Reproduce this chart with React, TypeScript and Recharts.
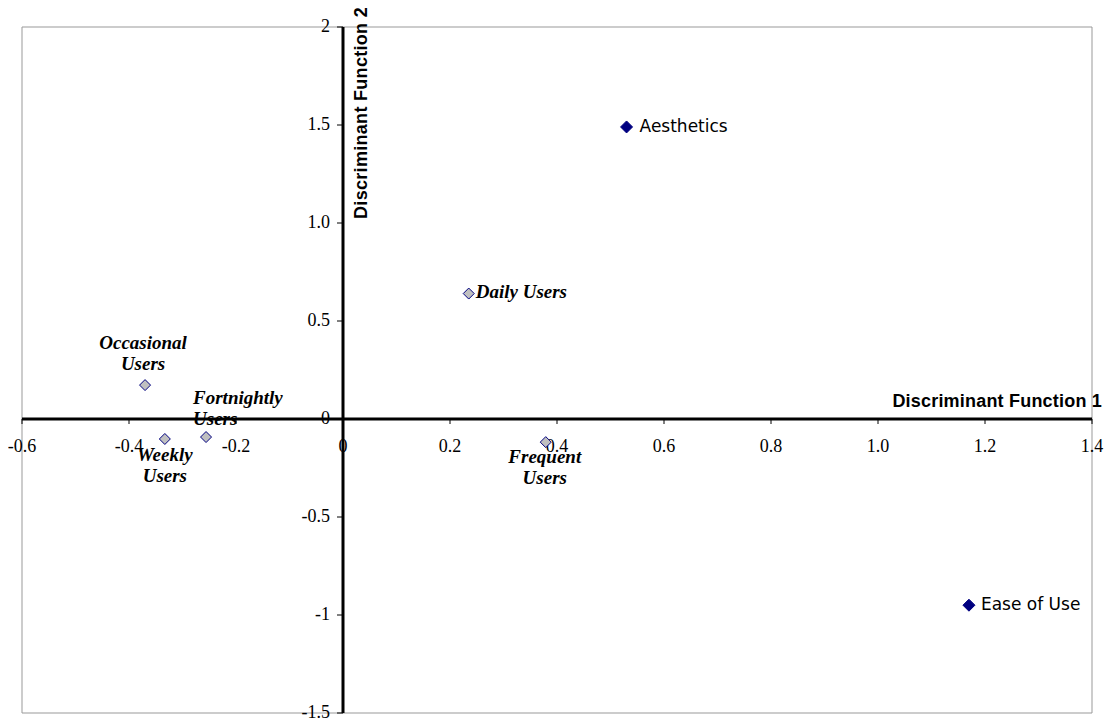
import React from "react";
import {
  ScatterChart,
  Scatter,
  XAxis,
  YAxis,
  CartesianGrid,
  ReferenceLine,
  ReferenceDot,
} from "recharts";

// axis ticks
const xTicks = [-0.6, -0.4, -0.2, 0, 0.2, 0.4, 0.6, 0.8, 1.0, 1.2, 1.4];
const xTickLabels = ["-0.6", "-0.4", "-0.2", "0", "0.2", "0.4", "0.6", "0.8", "1.0", "1.2", "1.4"];
const yTicks = [2, 1.5, 1, 0.5, 0, -0.5, -1, -1.5];
const yTickLabels = ["2", "1.5", "1.0", "0.5", "0", "-0.5", "-1", "-1.5"];

// attributes (filled markers)
const attributeNames = ["Aesthetics", "Ease of Use"];
const attributeX = [0.53, 1.17];
const attributeY = [1.49, -0.95];

// user groups (hollow markers)
const groupNames = ["Daily Users", "Occasional Users", "Weekly Users", "Fortnightly Users", "Frequent Users"];
const groupX = [0.235, -0.37, -0.333, -0.256, 0.379];
const groupY = [0.64, 0.173, -0.102, -0.092, -0.118];

const attributeData = attributeNames.map((name, i) => ({ name, x: attributeX[i], y: attributeY[i] }));
const groupData = groupNames.map((name, i) => ({ name, x: groupX[i], y: groupY[i] }));

const SERIF = '"Liberation Serif", "Times New Roman", serif';
const SANS = '"Liberation Sans", Arial, sans-serif';
const COMIC = '"Comic Sans MS", "DejaVu Sans", sans-serif';
const NAVY = "#000080";

// where each label sits relative to its marker
const labelPlacement: Record<string, { dx: number; dy: number; anchor: "start" | "middle"; split: boolean }> = {
  "Aesthetics": { dx: 13, dy: 0, anchor: "start", split: false },
  "Ease of Use": { dx: 12, dy: 0, anchor: "start", split: false },
  "Daily Users": { dx: 7, dy: 0, anchor: "start", split: false },
  "Occasional Users": { dx: -2, dy: -40, anchor: "middle", split: true },
  "Weekly Users": { dx: 0, dy: 18, anchor: "middle", split: true },
  "Fortnightly Users": { dx: -13, dy: -37, anchor: "start", split: true },
  "Frequent Users": { dx: -1, dy: 17, anchor: "middle", split: true },
};

const diamond = (cx: number, cy: number, h: number) =>
  `M${cx},${cy - h} L${cx + h},${cy} L${cx},${cy + h} L${cx - h},${cy} Z`;

const makeShape = (kind: "attr" | "group") => (props: any) => {
  const { cx, cy, payload } = props;
  const p = labelPlacement[payload.name];
  const lines = p.split ? payload.name.split(" ") : [payload.name];
  return (
    <g>
      {kind === "attr" ? (
        <path d={diamond(cx, cy, 6)} fill={NAVY} stroke={NAVY} />
      ) : (
        <path d={diamond(cx, cy, 5.5)} fill="#c0c0c0" stroke={NAVY} strokeWidth={1} />
      )}
      {lines.map((t: string, i: number) => (
        <text
          key={i}
          x={cx + p.dx}
          y={cy + p.dy + i * 21}
          textAnchor={p.anchor}
          dominantBaseline="middle"
          fontFamily={kind === "attr" ? COMIC : SERIF}
          fontSize={kind === "attr" ? 17 : 19}
          fontWeight={kind === "attr" ? "normal" : "bold"}
          fontStyle={kind === "attr" ? "normal" : "italic"}
          fill="#000"
        >
          {t}
        </text>
      ))}
    </g>
  );
};

const XTick = (label: string) => (props: any) => (
  <g>
    <line x1={props.cx} y1={props.cy} x2={props.cx} y2={props.cy + 5} stroke="#000" strokeWidth={1} />
    <text x={props.cx} y={props.cy + 33} textAnchor="middle" fontFamily={SERIF} fontSize={18} fill="#000">
      {label}
    </text>
  </g>
);

const YTick = (label: string) => (props: any) => (
  <g>
    <line x1={props.cx} y1={props.cy} x2={props.cx - 6} y2={props.cy} stroke="#000" strokeWidth={1} />
    <text x={props.cx - 13} y={props.cy + 1} textAnchor="end" dominantBaseline="middle" fontFamily={SERIF} fontSize={18} fill="#000">
      {label}
    </text>
  </g>
);

export default function App() {
  return (
    <div style={{ width: 1104, height: 715 }}>
      <ScatterChart
        width={1104}
        height={715}
        margin={{ top: 19, right: 20, bottom: 10, left: 14 }}
        style={{ overflow: "visible" }}
      >
        <CartesianGrid stroke="#999" strokeWidth={1} />
        <XAxis
          type="number"
          dataKey="x"
          domain={[-0.6, 1.4]}
          ticks={xTicks}
          height={0}
          axisLine={false}
          tickLine={false}
          tick={false}
          allowDataOverflow
        />
        <YAxis
          type="number"
          dataKey="y"
          domain={[-1.5, 2]}
          ticks={yTicks}
          width={0}
          axisLine={false}
          tickLine={false}
          tick={false}
          allowDataOverflow
        />
        <ReferenceLine x={0} stroke="#000" strokeWidth={3} />
        <ReferenceLine y={0} stroke="#000" strokeWidth={3} />
        {xTicks.map((v, i) => (
          <ReferenceDot key={"xt" + i} x={v} y={0} r={0} ifOverflow="visible" shape={XTick(xTickLabels[i])} />
        ))}
        {yTicks.map((v, i) => (
          <ReferenceDot key={"yt" + i} x={0} y={v} r={0} ifOverflow="visible" shape={YTick(yTickLabels[i])} />
        ))}
        <ReferenceDot
          x={0}
          y={2}
          r={0}
          ifOverflow="visible"
          shape={(p: any) => (
            <text
              x={p.cx + 19}
              y={p.cy - 20}
              transform={`rotate(-90 ${p.cx + 19} ${p.cy - 20})`}
              textAnchor="end"
              dominantBaseline="middle"
              fontFamily={SANS}
              fontWeight="bold"
              fontSize={18}
              letterSpacing={0.3}
              fill="#000"
            >
              Discriminant Function 2
            </text>
          )}
        />
        <ReferenceDot
          x={1.4}
          y={0}
          r={0}
          ifOverflow="visible"
          shape={(p: any) => (
            <text
              x={p.cx + 10}
              y={p.cy - 17}
              textAnchor="end"
              dominantBaseline="middle"
              fontFamily={SANS}
              fontWeight="bold"
              fontSize={18}
              letterSpacing={0.2}
              fill="#000"
            >
              Discriminant Function 1
            </text>
          )}
        />
        <Scatter name="Attributes" data={attributeData} shape={makeShape("attr")} isAnimationActive={false} />
        <Scatter name="Groups" data={groupData} shape={makeShape("group")} isAnimationActive={false} />
      </ScatterChart>
    </div>
  );
}
